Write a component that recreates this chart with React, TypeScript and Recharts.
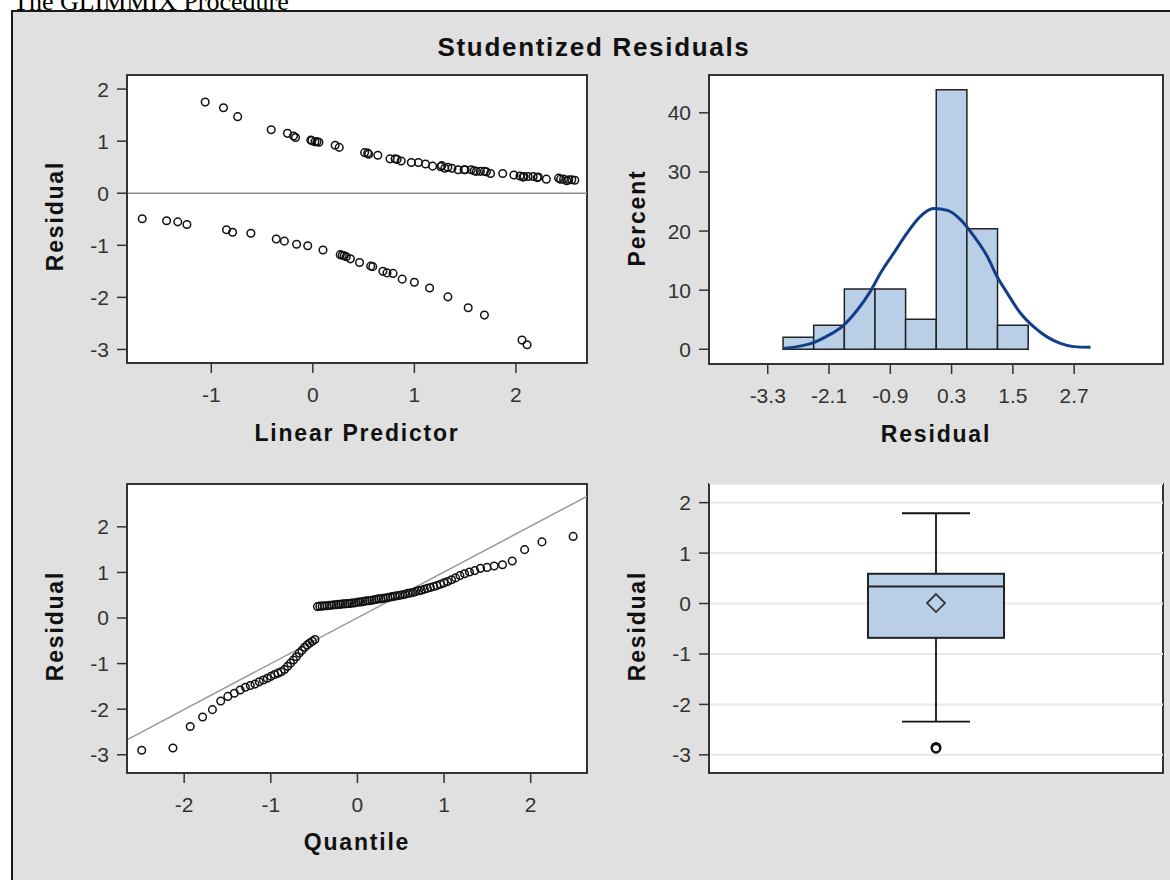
import React from 'react';
import {
  ScatterChart,
  Scatter,
  ComposedChart,
  Bar,
  Line,
  LineChart,
  XAxis,
  YAxis,
  ReferenceLine,
  ReferenceArea,
  CartesianGrid,
} from 'recharts';

// ---- panel 1: residual vs linear predictor ----
const linPred = [
  -1.06, -0.88, -0.74, -0.41, -0.25, -0.19, -0.17, -0.02, -0.01, 0.02, 0.04, 0.06, 0.22, 0.26,
  0.51, 0.54, 0.55, 0.64, 0.76, 0.81, 0.83, 0.87, 0.97, 1.04, 1.11, 1.18, 1.26, 1.27, 1.3, 1.33,
  1.37, 1.43, 1.49, 1.5, 1.56, 1.59, 1.61, 1.65, 1.69, 1.71, 1.75, 1.87, 1.98, 2.04, 2.07, 2.08,
  2.12, 2.17, 2.21, 2.22, 2.3, 2.42, 2.44, 2.47, 2.5, 2.52, 2.55, 2.58,
  -1.68, -1.44, -1.33, -1.24, -0.85, -0.79, -0.61, -0.36, -0.28, -0.16, -0.05, 0.1, 0.27, 0.29,
  0.31, 0.33, 0.37, 0.46, 0.57, 0.59, 0.69, 0.73, 0.79, 0.88, 1.0, 1.15, 1.33, 1.53, 1.69, 2.06,
  2.11,
];
const linResid = [
  1.75, 1.64, 1.47, 1.22, 1.15, 1.1, 1.07, 1.02, 1.01, 0.99, 0.99, 0.98, 0.92, 0.88,
  0.78, 0.77, 0.75, 0.73, 0.66, 0.66, 0.65, 0.62, 0.59, 0.59, 0.56, 0.52, 0.51, 0.53, 0.48, 0.5,
  0.48, 0.45, 0.45, 0.45, 0.45, 0.43, 0.42, 0.42, 0.42, 0.41, 0.38, 0.38, 0.35, 0.33, 0.31, 0.32,
  0.32, 0.32, 0.3, 0.31, 0.27, 0.29, 0.27, 0.27, 0.24, 0.26, 0.26, 0.25,
  -0.49, -0.53, -0.55, -0.6, -0.7, -0.75, -0.77, -0.88, -0.92, -0.98, -1.01, -1.09, -1.18, -1.19,
  -1.2, -1.22, -1.26, -1.33, -1.4, -1.41, -1.5, -1.53, -1.54, -1.65, -1.71, -1.82, -1.99, -2.2,
  -2.34, -2.82, -2.91,
];
const residTicks = [-3, -2, -1, 0, 1, 2];
const linPredTicks = [-1, 0, 1, 2];

// ---- panel 2: histogram with normal density ----
const binLo = [-3.0, -2.4, -1.8, -1.2, -0.6, 0.0, 0.6, 1.2];
const binHi = [-2.4, -1.8, -1.2, -0.6, 0.0, 0.6, 1.2, 1.8];
const binPct = [2.04, 4.08, 10.2, 10.2, 5.1, 43.9, 20.4, 4.08];
const histTicks = [-3.3, -2.1, -0.9, 0.3, 1.5, 2.7];
const pctTicks = [0, 10, 20, 30, 40];
const curveX = [
  -2.98, -2.72, -2.4, -2.13, -1.81, -1.55, -1.29, -1.09, -0.83, -0.57, -0.31, -0.05, 0.22, 0.48,
  0.74, 1.0, 1.19, 1.39, 1.65, 1.91, 2.17, 2.43, 2.69, 3.02,
];
const curveY = [
  0.17, 0.45, 1.13, 2.26, 4.1, 6.6, 9.8, 12.9, 16.3, 19.7, 22.5, 23.8, 23.5, 21.9, 19.1, 15.7,
  12.3, 9.5, 6.1, 3.8, 2.1, 1.0, 0.45, 0.34,
];

// ---- panel 3: normal quantile plot ----
const qqQuantile = [
  -2.49, -2.13, -1.93, -1.787, -1.674, -1.578, -1.496, -1.421, -1.354, -1.293,
  -1.237, -1.183, -1.133, -1.086, -1.041, -0.998, -0.957, -0.917, -0.88, -0.842,
  -0.806, -0.772, -0.738, -0.705, -0.672, -0.641, -0.61, -0.58, -0.55, -0.52,
  -0.491, -0.462, -0.434, -0.406, -0.379, -0.351, -0.325, -0.298, -0.272, -0.245,
  -0.219, -0.193, -0.167, -0.141, -0.115, -0.089, -0.064, -0.038, -0.013, 0.013,
  0.038, 0.064, 0.089, 0.115, 0.141, 0.167, 0.193, 0.219, 0.245, 0.272,
  0.298, 0.325, 0.351, 0.379, 0.406, 0.434, 0.462, 0.491, 0.52, 0.55,
  0.58, 0.61, 0.641, 0.672, 0.705, 0.738, 0.772, 0.806, 0.842, 0.88,
  0.917, 0.957, 0.998, 1.041, 1.086, 1.133, 1.183, 1.237, 1.293, 1.354,
  1.421, 1.496, 1.578, 1.674, 1.787, 1.93, 2.13, 2.49,
];
const qqResidual = [
  -2.9, -2.85, -2.38, -2.17, -2.01, -1.82, -1.72, -1.65, -1.58, -1.52,
  -1.48, -1.45, -1.4, -1.36, -1.32, -1.28, -1.24, -1.21, -1.18, -1.13,
  -1.06, -0.99, -0.92, -0.85, -0.77, -0.71, -0.64, -0.59, -0.55, -0.51,
  -0.47, 0.25, 0.26, 0.26, 0.27, 0.27, 0.28, 0.28, 0.29, 0.29,
  0.3, 0.3, 0.31, 0.31, 0.32, 0.32, 0.33, 0.33, 0.34, 0.35,
  0.35, 0.36, 0.37, 0.38, 0.38, 0.39, 0.4, 0.41, 0.42, 0.42,
  0.43, 0.44, 0.45, 0.46, 0.47, 0.48, 0.49, 0.5, 0.51, 0.52,
  0.54, 0.55, 0.56, 0.58, 0.6, 0.61, 0.63, 0.65, 0.67, 0.69,
  0.71, 0.74, 0.77, 0.8, 0.84, 0.88, 0.93, 0.97, 1.01, 1.04,
  1.09, 1.11, 1.14, 1.17, 1.25, 1.5, 1.67, 1.79,
];
const qqLineX = [-2.66, 2.65];
const qqLineY = [-2.67, 2.67];
const quantileTicks = [-2, -1, 0, 1, 2];

// ---- panel 4: box plot ----
const boxFive = [-2.34, -0.68, 0.34, 0.59, 1.79]; // low whisker, q1, median, q3, high whisker
const boxMean = [0.01];
const boxOutliers = [-2.85, -2.87];

const FONT = 'Arial, "Liberation Sans", Helvetica, sans-serif';
const AXIS = '#333';
const BLUE_FILL = '#b9cfe7';
const YW = 80;
const XH = 50;
const PAD = 4;

const linData = linPred.map((x, i) => ({ x, y: linResid[i] }));
const curveData = curveX.map((x, i) => ({ x, y: curveY[i] }));
const qqData = qqQuantile.map((x, i) => ({ x, y: qqResidual[i] }));
const boxData = [
  { cat: 'Residual', range: [boxFive[0], boxFive[4]], five: boxFive, mean: boxMean[0], out: boxOutliers },
];

const frame = (r: number[]) => ({
  left: r[0] - YW - PAD,
  top: r[1] - PAD,
  width: r[2] - r[0] + YW + 2 * PAD,
  height: r[3] - r[1] + XH + 2 * PAD,
});

const P1 = [127, 75, 587, 363];
const P2 = [709, 75, 1163, 364];
const P3 = [127, 484, 587, 773];
const P4 = [709, 484, 1163, 773];

const margin = { top: PAD, right: PAD, bottom: PAD, left: PAD };
const tickStyle = { fill: AXIS, fontSize: 21, fontFamily: FONT };
const xProps = {
  tick: tickStyle,
  tickLine: { stroke: AXIS, strokeWidth: 1.5 },
  axisLine: { stroke: AXIS, strokeWidth: 2 },
  tickSize: 10,
  tickMargin: 14,
  height: XH,
  interval: 0 as const,
  allowDataOverflow: true,
};
const yProps = {
  tick: tickStyle,
  tickLine: { stroke: AXIS, strokeWidth: 1.5 },
  axisLine: { stroke: AXIS, strokeWidth: 2 },
  tickSize: 10,
  tickMargin: 8,
  width: YW,
  interval: 0 as const,
  allowDataOverflow: true,
};
const bareProps = { tick: false, tickLine: false, axisLine: false, allowDataOverflow: true };

const Ring = (p: any) => (
  <circle cx={p.cx} cy={p.cy} r={3.8} fill="none" stroke="#111" strokeWidth={1.5} />
);

const BoxShape = (p: any) => {
  const { x, y, width, height, payload } = p;
  const [lo, q1, med, q3, hi] = payload.five;
  const toY = (v: number) => y + (height * (hi - v)) / (hi - lo);
  const cx = x + width / 2;
  const cap = width / 4;
  const d = 9;
  const my = toY(payload.mean);
  return (
    <g>
      <line x1={cx} x2={cx} y1={toY(hi)} y2={toY(q3)} stroke="#111" strokeWidth={1.8} />
      <line x1={cx} x2={cx} y1={toY(q1)} y2={toY(lo)} stroke="#111" strokeWidth={1.8} />
      <line x1={cx - cap} x2={cx + cap} y1={toY(hi)} y2={toY(hi)} stroke="#111" strokeWidth={1.8} />
      <line x1={cx - cap} x2={cx + cap} y1={toY(lo)} y2={toY(lo)} stroke="#111" strokeWidth={1.8} />
      <rect x={x} y={toY(q3)} width={width} height={toY(q1) - toY(q3)} fill={BLUE_FILL} stroke="#222" strokeWidth={2} />
      <line x1={x} x2={x + width} y1={toY(med)} y2={toY(med)} stroke="#222" strokeWidth={2} />
      <path d={`M${cx},${my - d}L${cx + d},${my}L${cx},${my + d}L${cx - d},${my}Z`} fill="none" stroke="#333" strokeWidth={1.8} />
      {payload.out.map((v: number, i: number) => (
        <circle key={i} cx={cx} cy={toY(v)} r={4.2} fill="#fff" stroke="#111" strokeWidth={2.4} />
      ))}
    </g>
  );
};

const PlotBg = ({ r }: { r: number[] }) => (
  <div
    style={{
      position: 'absolute',
      left: r[0] - 1,
      top: r[1] - 1,
      width: r[2] - r[0] + 2,
      height: r[3] - r[1] + 2,
      boxSizing: 'border-box',
      border: `2px solid ${AXIS}`,
      background: '#fff',
    }}
  />
);

const Holder = ({ r, children }: { r: number[]; children: React.ReactNode }) => (
  <div style={{ position: 'absolute', ...frame(r) }}>{children}</div>
);

const labelStyle = { fontFamily: FONT, fontWeight: 700, fontSize: 23, letterSpacing: 1.8, fill: '#111' };

const histX: [number, number] = [-4.45, 4.44];
const histY: [number, number] = [-2.49, 46.4];

export default function App() {
  const f1 = frame(P1);
  const f2 = frame(P2);
  const f3 = frame(P3);
  const f4 = frame(P4);
  return (
    <div style={{ position: 'absolute', left: 0, top: 0, width: 1170, height: 880, overflow: 'hidden', background: '#fff' }}>
      <div
        style={{
          position: 'absolute',
          left: 11,
          top: 10,
          width: 1200,
          height: 900,
          background: '#e0e0e0',
          borderLeft: '2px solid #1a1a1a',
          borderTop: '2px solid #1a1a1a',
        }}
      />
      <PlotBg r={P1} />
      <PlotBg r={P2} />
      <PlotBg r={P3} />
      <PlotBg r={P4} />

      <Holder r={P1}>
        <ScatterChart width={f1.width} height={f1.height} margin={margin}>
          <XAxis type="number" dataKey="x" domain={[-1.83, 2.7]} ticks={linPredTicks} {...xProps} />
          <YAxis type="number" dataKey="y" domain={[-3.26, 2.27]} ticks={residTicks} {...yProps} />
          <ReferenceLine y={0} stroke="#8c8c8c" strokeWidth={1.5} />
          <Scatter data={linData} shape={Ring} isAnimationActive={false} />
        </ScatterChart>
      </Holder>

      {/* histogram bars */}
      <Holder r={P2}>
        <ComposedChart width={f2.width} height={f2.height} margin={margin} data={curveData}>
          <XAxis type="number" dataKey="x" domain={histX} ticks={histTicks} {...xProps} />
          <YAxis type="number" domain={histY} ticks={pctTicks} {...yProps} />
          {binPct.map((pct, i) => (
            <ReferenceArea
              key={i}
              x1={binLo[i]}
              x2={binHi[i]}
              y1={0}
              y2={pct}
              fill={BLUE_FILL}
              fillOpacity={1}
              stroke="#222"
              strokeWidth={1.5}
            />
          ))}
        </ComposedChart>
      </Holder>
      {/* normal density curve, same plot area, drawn over the bars */}
      <Holder r={P2}>
        <LineChart width={f2.width} height={f2.height} margin={margin} data={curveData}>
          <XAxis type="number" dataKey="x" domain={histX} height={XH} {...bareProps} />
          <YAxis type="number" domain={histY} width={YW} {...bareProps} />
          <Line dataKey="y" type="monotone" stroke="#123e88" strokeWidth={3} dot={false} isAnimationActive={false} />
        </LineChart>
      </Holder>

      <Holder r={P3}>
        <ScatterChart width={f3.width} height={f3.height} margin={margin}>
          <XAxis type="number" dataKey="x" domain={[-2.66, 2.65]} ticks={quantileTicks} {...xProps} />
          <YAxis type="number" dataKey="y" domain={[-3.4, 2.94]} ticks={residTicks} {...yProps} />
          <ReferenceLine
            segment={[
              { x: qqLineX[0], y: qqLineY[0] },
              { x: qqLineX[1], y: qqLineY[1] },
            ]}
            stroke="#999"
            strokeWidth={1.5}
            ifOverflow="hidden"
          />
          <Scatter data={qqData} shape={Ring} isAnimationActive={false} />
        </ScatterChart>
      </Holder>

      <Holder r={P4}>
        <ComposedChart width={f4.width} height={f4.height} margin={margin} data={boxData}>
          <CartesianGrid horizontal vertical={false} stroke="#e8e8e8" strokeWidth={2} />
          <XAxis type="category" dataKey="cat" {...xProps} tick={false} tickLine={false} />
          <YAxis type="number" domain={[-3.36, 2.37]} ticks={residTicks} {...yProps} />
          <Bar dataKey="range" barSize={136} shape={BoxShape} isAnimationActive={false} />
        </ComposedChart>
      </Holder>

      <svg width={1170} height={880} style={{ position: 'absolute', left: 0, top: 0, pointerEvents: 'none' }}>
        <text x={13} y={10} fontFamily='"Liberation Serif", "Times New Roman", serif' fontSize={26} fill="#000">
          The GLIMMIX Procedure
        </text>
        <text x={594} y={56} textAnchor="middle" fontFamily={FONT} fontWeight={700} fontSize={26} letterSpacing={1.7} fill="#111">
          Studentized Residuals
        </text>
        <text x={357} y={441} textAnchor="middle" style={labelStyle}>Linear Predictor</text>
        <text x={936} y={442} textAnchor="middle" style={labelStyle}>Residual</text>
        <text x={357} y={850} textAnchor="middle" style={labelStyle}>Quantile</text>
        <text x={63} y={216} textAnchor="middle" transform="rotate(-90 63 216)" style={labelStyle}>Residual</text>
        <text x={645} y={218} textAnchor="middle" transform="rotate(-90 645 218)" style={labelStyle}>Percent</text>
        <text x={63} y={626} textAnchor="middle" transform="rotate(-90 63 626)" style={labelStyle}>Residual</text>
        <text x={645} y={626} textAnchor="middle" transform="rotate(-90 645 626)" style={labelStyle}>Residual</text>
      </svg>
    </div>
  );
}
